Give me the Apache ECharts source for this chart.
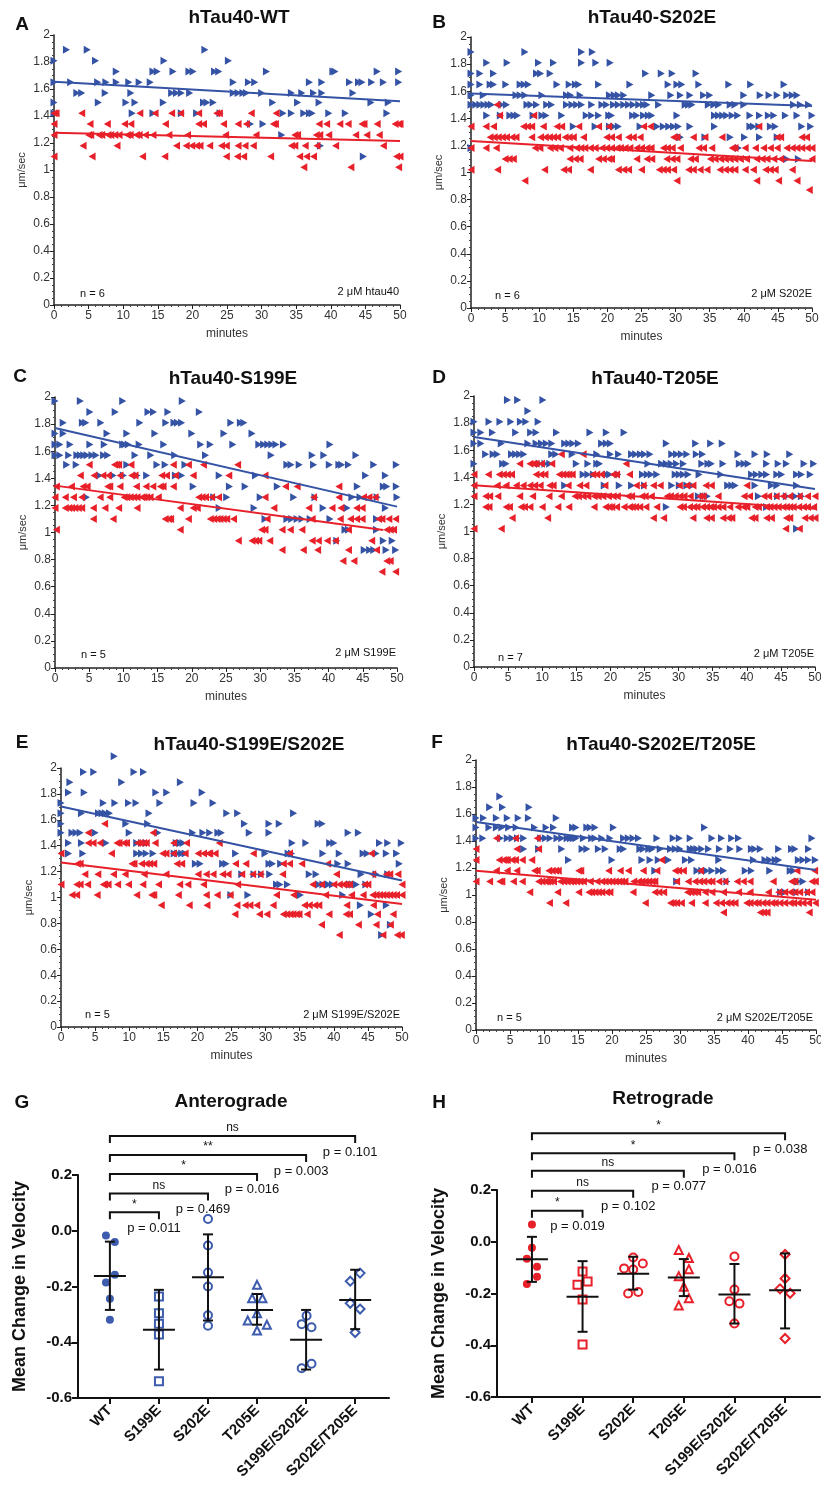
<!DOCTYPE html>
<html>
<head>
<meta charset="utf-8">
<script src="https://cdn.jsdelivr.net/npm/echarts@6/dist/echarts.min.js"></script>
<style>
  html, body { margin: 0; padding: 0; background: #fff; }
  #chart { width: 821px; height: 1491px; }
</style>
</head>
<body>
<div id="chart"></div>
<script>
// velocity rows: [µm/sec level, [minutes...]]
const aAntero = [
  [1.89, [1.8, 4.8, 21.8]],
  [1.81, [0, 6.0, 15.9, 25.2]],
  [1.73, [9.0, 14.3, 14.9, 17.2, 19.5, 20.1, 23.2, 23.8, 30.7, 40.3, 40.6, 46.7, 49.8]],
  [1.65, [0, 2.4, 6.3, 7.5, 9.0, 10.8, 12.3, 13.9, 25.9, 28.1, 29.0, 36.9, 38.7, 42.7, 44.0, 44.5, 45.9, 47.6, 49.8]],
  [1.57, [3.3, 4.0, 7.4, 11.1, 17.0, 17.7, 18.4, 19.6, 25.9, 26.6, 27.3, 27.8, 30.0, 34.3, 35.8, 37.5, 38.7, 43.2]],
  [1.50, [0, 6.4, 10.4, 11.7, 15.8, 21.6, 22.1, 23.0, 31.6, 35.2, 38.3, 45.8, 48.3]],
  [1.42, [0, 11.3, 14.3, 18.4, 20.6, 24.0, 33.1, 34.3, 36.1, 36.9, 37.3, 39.7, 42.1, 48.1]],
  [1.34, [28.4, 30.2]],
  [1.26, [32.9]],
  [1.18, [38.5]],
  [1.10, [44.7]]
]
const aRetro = [
  [1.42, [0, 0.3, 4.0, 12.4, 14.6, 17.0, 18.3, 20.9, 23.5, 23.9, 28.5, 32.1]],
  [1.34, [0, 5.2, 7.7, 10.2, 11.1, 16.1, 20.9, 21.6, 24.5, 26.6, 27.8, 31.7, 32.0, 38.3, 39.4, 41.3, 42.5, 44.5, 44.8, 46.7, 49.3, 49.8, 50]],
  [1.26, [0, 5.0, 5.3, 6.5, 6.9, 7.8, 8.2, 8.8, 9.4, 10.6, 11.0, 11.9, 12.3, 13.2, 14.3, 16.6, 19.3, 24.8, 29.2, 34.8, 35.2, 37.9, 38.4, 39.7, 43.6, 45.2, 47.0]],
  [1.18, [4.2, 9.1, 17.7, 19.1, 19.9, 20.6, 21.1, 22.5, 24.2, 24.9, 26.6, 27.6, 28.8, 34.3, 34.8, 36.3, 38.0, 40.7, 47.6]],
  [1.10, [0, 5.5, 12.8, 16.0, 24.9, 26.5, 27.4, 31.3, 35.5, 36.5, 37.5, 49.5, 50]],
  [1.02, [36.1, 42.9, 49.8]]
]
const bAntero = [
  [1.89, [0, 7.9, 16.2, 17.8]],
  [1.81, [2.3, 5.3, 9.9, 12.1, 16.2, 18.3, 20.4]],
  [1.73, [0, 1.3, 3.3, 9.6, 10.2, 11.6, 25.6, 27.9, 29.5, 33.0]],
  [1.65, [0, 1.3, 2.8, 3.3, 5.1, 7.2, 7.8, 8.4, 12.6, 14.4, 15.3, 15.8, 18.7, 23.3, 28.9, 30.2, 30.9, 33.4, 37.8, 41.0, 45.9]],
  [1.57, [0, 1.8, 6.6, 7.2, 7.9, 10.4, 14.0, 14.6, 16.0, 20.3, 21.0, 21.6, 22.4, 26.5, 29.3, 30.7, 32.1, 34.1, 35.0, 40.0, 42.4, 43.7, 44.9, 46.3, 47.1, 47.8]],
  [1.50, [0, 0.7, 1.3, 1.9, 2.5, 3.0, 4.5, 5.2, 8.2, 8.8, 9.6, 11.1, 11.8, 14.0, 14.8, 15.5, 16.2, 17.7, 19.2, 19.9, 20.9, 21.6, 22.4, 23.1, 23.8, 24.6, 25.3, 25.8, 27.5, 31.4, 31.9, 32.4, 34.8, 35.6, 36.3, 38.0, 38.7, 40.0, 47.3, 48.3, 49.5]],
  [1.42, [2.3, 4.3, 5.7, 6.3, 6.8, 9.1, 10.4, 11.0, 13.3, 16.9, 17.7, 18.7, 20.2, 20.6, 23.7, 24.3, 25.3, 26.0, 26.5, 30.2, 35.7, 36.3, 36.9, 37.5, 38.3, 39.1, 40.9, 42.3, 43.6, 44.4, 46.1, 47.8, 50]],
  [1.34, [15.0, 18.2, 20.3, 20.9, 21.6, 24.8, 27.3, 28.2, 29.0, 29.7, 30.4, 32.1, 35.7, 40.9, 41.4, 42.2, 43.9, 44.6, 48.5, 49.8]],
  [1.26, [30.7, 34.3, 38.0, 40.1, 42.3, 44.9]],
  [1.18, [0, 39.2]],
  [1.10, [46.3, 48.0]]
]
const bRetro = [
  [1.50, [3.8]],
  [1.42, [4.2, 9.2]],
  [1.34, [0, 2.2, 3.3, 7.7, 8.3, 8.9, 10.6, 12.6, 13.3, 15.8, 18.7, 20.2, 25.3, 26.3, 42.2]],
  [1.26, [2.8, 3.4, 4.0, 4.6, 5.2, 6.0, 6.6, 8.9, 10.2, 10.9, 11.5, 12.1, 12.7, 13.8, 14.4, 15.0, 16.5, 19.9, 20.6, 21.6, 23.1, 23.8, 24.8, 29.7, 30.2, 32.6, 34.3, 36.8, 44.9, 45.4, 48.5, 49.2]],
  [1.18, [0, 2.2, 3.7, 9.4, 10.1, 11.6, 12.3, 13.1, 14.5, 15.5, 16.1, 16.7, 17.5, 18.2, 19.2, 19.9, 20.6, 21.4, 21.9, 22.6, 23.3, 24.3, 25.0, 25.8, 26.4, 28.2, 28.8, 29.5, 30.7, 33.4, 34.1, 35.3, 38.3, 38.7, 40.2, 41.7, 42.9, 43.9, 44.9, 46.3, 47.1, 47.8, 48.5, 49.3, 50]],
  [1.10, [5.0, 5.6, 6.2, 14.5, 15.3, 16.0, 18.7, 19.4, 20.2, 20.6, 24.3, 25.8, 26.5, 28.7, 29.5, 30.2, 32.2, 32.9, 35.1, 35.8, 36.6, 37.3, 38.0, 38.7, 39.5, 40.4, 41.9, 42.7, 43.4, 44.4, 45.4, 50]],
  [1.02, [0, 3.9, 10.8, 13.6, 14.3, 17.5, 21.6, 22.4, 23.1, 25.0, 27.6, 28.2, 28.8, 29.7, 31.9, 32.6, 33.6, 34.6, 36.5, 37.3, 38.0, 38.7, 40.2, 41.4, 43.2, 43.9, 44.6, 47.1]],
  [0.94, [7.9, 30.2, 41.9, 45.1, 47.8]],
  [0.87, [49.6]]
]
const cAntero = [
  [1.97, [0, 3.7, 9.9, 18.6]],
  [1.89, [5.1, 8.8, 13.6, 14.4, 16.5, 21.1]],
  [1.81, [1.2, 4.0, 4.5, 6.7, 12.4, 16.2, 17.4, 17.9, 18.5, 25.7, 27.1, 27.6]],
  [1.73, [0, 1.2, 7.6, 10.5, 14.6, 20.0, 24.7, 28.8]],
  [1.65, [0, 0.7, 2.2, 5.1, 7.2, 9.9, 10.2, 10.7, 12.3, 15.9, 21.3, 22.7, 26.0, 29.8, 30.5, 31.1, 31.7, 32.3, 33.4, 40.2]],
  [1.57, [0, 0.7, 2.0, 3.2, 3.7, 4.2, 4.7, 5.4, 6.0, 7.1, 7.7, 11.7, 14.0, 17.5, 22.0, 31.6, 37.6, 39.3, 44.0]],
  [1.50, [1.7, 3.1, 10.5, 14.9, 16.1, 19.0, 33.9, 34.5, 35.7, 37.8, 40.1, 41.5, 41.9, 42.9, 46.6, 49.9]],
  [1.42, [6.5, 8.5, 10.0, 12.0, 13.4, 17.6, 18.5, 24.0, 29.3, 45.4, 48.3]],
  [1.34, [20.2, 25.5, 27.8, 32.5, 44.2, 48.0, 48.5, 49.9]],
  [1.26, [4.6, 23.2, 25.1, 30.0, 34.9, 38.0, 43.4, 44.6, 47.1, 50]],
  [1.18, [24.0, 29.1, 39.2, 42.7, 48.3]],
  [1.10, [30.7, 33.9, 34.6, 35.4, 36.1, 37.3, 40.2, 47.0]],
  [1.02, [42.4, 42.9, 47.0]],
  [0.94, [41.2, 48.0, 49.3]],
  [0.87, [45.2, 46.0, 46.6, 48.4, 49.8]]
]
const cRetro = [
  [1.50, [5.0, 8.7, 9.0, 9.3, 11.1, 17.3, 19.5, 21.7, 26.7]],
  [1.42, [3.7, 5.7, 7.0, 7.8, 9.5, 11.2, 11.7, 15.6, 16.3, 17.6, 20.2, 25.4, 30.7]],
  [1.34, [0.2, 2.4, 4.1, 4.7, 7.7, 8.0, 9.5, 11.9, 13.3, 14.3, 15.4, 15.8, 17.3, 33.7, 35.4, 41.5]],
  [1.26, [0, 1.5, 2.7, 3.9, 6.6, 8.0, 10.1, 10.5, 11.0, 11.5, 12.0, 12.7, 13.0, 13.4, 13.9, 15.1, 21.0, 21.5, 22.0, 22.9, 23.9, 30.7, 37.8, 41.5, 45.1, 45.9, 46.8]],
  [1.18, [0, 1.5, 2.0, 2.4, 2.9, 3.4, 3.9, 5.6, 7.3, 9.3, 12.0, 18.3, 20.2, 20.8, 32.0, 37.1, 40.5, 41.8, 44.1, 44.9]],
  [1.10, [5.6, 8.5, 16.1, 16.6, 16.9, 19.5, 22.7, 23.2, 23.7, 24.1, 24.6, 25.1, 26.1, 31.0, 37.6, 41.7, 43.2, 44.1, 44.9, 47.3, 47.8, 48.8, 49.8]],
  [1.02, [0.2, 18.3, 30.2, 30.7, 33.2, 34.4, 36.1, 42.9, 48.5, 49.0, 49.5]],
  [0.94, [26.8, 28.8, 29.3, 29.8, 31.4, 37.6, 38.5, 39.8, 41.0, 46.3]],
  [0.87, [33.2, 36.3, 38.4, 42.9, 47.0]],
  [0.79, [42.1, 43.7, 48.5, 49.0]],
  [0.71, [47.8, 49.8]]
]
const dAntero = [
  [1.97, [4.9, 6.4, 10.1]],
  [1.89, [7.9]],
  [1.81, [0, 2.2, 3.8, 5.4, 6.8, 7.6, 9.4]],
  [1.73, [0, 1.0, 2.7, 6.1, 8.3, 9.1, 12.1, 17.0, 19.4, 22.0]],
  [1.65, [0, 1.0, 4.0, 7.9, 9.1, 9.9, 10.6, 11.4, 13.3, 13.9, 14.5, 15.3, 18.7, 19.4, 20.0, 28.2, 32.5, 34.7, 36.4]],
  [1.57, [1.7, 2.8, 3.4, 5.5, 6.1, 6.7, 7.3, 11.4, 12.0, 14.4, 18.0, 20.0, 21.2, 23.1, 23.7, 24.4, 25.0, 25.8, 29.0, 29.7, 30.4, 31.2, 32.6, 33.5, 38.7, 41.2, 43.0, 46.3]],
  [1.50, [0, 4.2, 4.7, 9.6, 10.4, 11.1, 15.0, 16.7, 18.0, 18.4, 25.5, 27.5, 28.2, 28.9, 29.7, 30.7, 33.4, 34.3, 34.8, 36.5, 38.9, 39.6, 40.2, 42.9, 44.6, 45.8, 48.4, 49.8]],
  [1.42, [16.0, 16.7, 17.5, 19.4, 19.9, 21.1, 24.7, 25.4, 26.0, 26.8, 29.5, 30.1, 30.7, 31.4, 33.0, 36.2, 40.7, 41.4, 42.2, 42.9, 44.4, 45.1, 47.3, 48.0, 49.3]],
  [1.34, [13.3, 19.1, 21.3, 23.1, 25.0, 29.0, 30.1, 31.2, 32.0, 37.2, 37.8, 38.3, 41.2, 43.6, 44.4, 47.3]],
  [1.26, [32.9, 33.6, 34.2, 41.7, 44.5, 45.8, 47.1, 48.0]],
  [1.18, [28.2, 42.9]],
  [1.02, [47.3]]
]
const dRetro = [
  [1.57, [12.8, 16.0]],
  [1.50, [6.7, 8.2, 8.7, 9.1, 9.9, 11.4, 22.3]],
  [1.42, [0, 2.1, 3.7, 4.3, 4.9, 5.5, 9.1, 9.8, 10.4, 12.5, 13.0, 13.5, 13.9, 14.4, 17.4, 18.0, 18.7, 20.4, 20.9, 22.8]],
  [1.34, [0, 3.4, 4.7, 6.2, 7.2, 8.2, 8.9, 9.7, 11.1, 11.6, 13.8, 15.5, 16.4, 19.2, 23.8, 24.8, 26.3, 27.3, 30.1, 31.2, 32.1, 34.0, 34.8, 40.0]],
  [1.26, [0, 1.7, 2.3, 3.5, 6.7, 8.6, 11.0, 12.8, 14.8, 15.3, 16.0, 16.7, 17.6, 18.2, 18.9, 19.7, 20.4, 21.0, 22.6, 23.1, 24.6, 25.1, 26.0, 28.3, 28.8, 29.5, 30.2, 30.8, 31.7, 33.1, 33.6, 35.8, 39.6, 40.4, 42.5, 43.2, 44.3, 45.3, 46.3, 47.7, 48.9, 50]],
  [1.18, [1.7, 2.2, 4.7, 5.2, 6.9, 7.4, 8.2, 10.0, 12.3, 13.9, 17.6, 19.3, 19.8, 20.2, 20.9, 22.0, 22.8, 23.2, 23.7, 24.3, 25.2, 26.8, 30.2, 30.7, 31.6, 32.2, 32.7, 33.5, 34.1, 34.7, 35.1, 35.8, 36.5, 37.5, 38.7, 39.5, 40.0, 41.2, 41.7, 42.9, 43.4, 44.0, 44.6, 45.3, 45.8, 46.3, 46.8, 47.6, 48.3, 48.9, 49.8]],
  [1.10, [5.6, 10.8, 26.3, 27.8, 32.1, 34.1, 34.8, 36.5, 37.3, 37.8, 40.7, 41.2, 42.9, 43.6, 45.8, 46.3, 48.5, 49.3, 50]],
  [1.02, [0, 4.0, 45.7, 47.7]]
]
const eAntero = [
  [2.09, [7.8]],
  [1.97, [3.3, 4.8, 10.7, 12.1]],
  [1.89, [1.3, 8.9, 17.5]],
  [1.81, [1.1, 3.4, 13.9, 15.5, 20.7]],
  [1.73, [0, 6.2, 7.9, 9.9, 11.0, 14.5, 19.5, 22.3]],
  [1.65, [0, 3.0, 5.5, 6.0, 6.5, 7.1, 12.9, 24.3, 25.9, 34.1]],
  [1.57, [0, 9.5, 12.7, 26.9, 30.5, 32.0, 37.7, 38.3]],
  [1.50, [0, 1.6, 2.2, 2.8, 5.0, 10.0, 14.2, 19.3, 20.8, 21.8, 23.0, 23.5, 27.6, 30.5, 42.1, 43.6]],
  [1.42, [1.1, 3.0, 6.6, 11.1, 11.8, 12.5, 16.9, 17.5, 17.9, 33.9, 35.9, 39.4, 40.0, 46.7, 47.9, 49.9]],
  [1.34, [1.1, 3.2, 11.1, 11.8, 12.5, 13.5, 16.6, 17.1, 17.7, 18.2, 25.6, 29.9, 33.3, 33.8, 38.4, 40.8, 44.3, 44.9, 46.2, 47.7, 49.2]],
  [1.26, [19.7, 20.4, 23.7, 24.2, 30.5, 31.0, 32.2, 40.6, 42.1, 49.6]],
  [1.18, [26.5, 28.3, 29.4, 30.6, 36.4, 37.4, 44.0, 46.2, 47.9]],
  [1.10, [31.6, 32.1, 33.2, 37.8, 38.4, 39.2, 39.8, 42.3, 42.8, 43.3, 44.7]],
  [1.02, [24.9, 27.4, 35.1, 41.3]],
  [0.94, [43.9, 47.7]],
  [0.87, [45.5]],
  [0.79, [48.3]],
  [0.71, [47.0]]
]
const eRetro = [
  [1.57, [6.4]],
  [1.50, [4.0, 13.5]],
  [1.42, [4.0, 4.7, 5.7, 8.2, 8.5, 9.2, 9.6, 11.2, 11.6, 12.1, 12.5, 13.8, 16.5, 18.4, 23.2]],
  [1.34, [0, 7.4, 14.9, 15.4, 16.5, 18.2, 20.1, 20.9, 21.6, 21.8, 22.6, 28.2, 33.5, 45.5]],
  [1.26, [2.4, 2.8, 10.4, 10.7, 11.8, 12.5, 13.0, 13.6, 17.0, 17.7, 25.6, 27.1, 32.6, 33.5, 35.3, 39.1]],
  [1.18, [3.5, 5.4, 7.7, 9.4, 12.2, 15.4, 20.1, 21.3, 22.3, 23.7, 24.5, 26.5, 28.1, 29.2, 32.5, 40.4, 45.7, 47.7, 48.2, 49.4]],
  [1.10, [0, 2.3, 2.8, 3.9, 6.2, 6.4, 6.9, 8.3, 9.9, 12.0, 14.3, 17.4, 18.6, 20.9, 25.9, 36.9, 38.2, 40.0, 40.8, 41.4, 41.8, 42.3, 44.5, 45.0, 50]],
  [1.02, [1.6, 2.3, 5.3, 11.1, 13.3, 13.6, 17.2, 21.3, 22.9, 24.8, 31.6, 34.1, 38.8, 42.6, 44.3, 45.7, 46.2, 46.7, 47.2, 47.7, 48.2, 48.7, 49.2, 50]],
  [0.94, [14.7, 18.8, 21.4, 25.8, 27.0, 27.7, 28.7, 31.1, 35.7, 36.4, 37.2, 37.8, 41.9, 45.8]],
  [0.87, [25.5, 29.1, 30.2, 32.6, 33.1, 33.6, 34.0, 34.5, 34.9, 36.1, 39.3, 41.8, 42.3, 46.4, 48.7]],
  [0.79, [38.2, 43.6, 46.2, 48.3]],
  [0.71, [40.8, 47.2, 49.3, 49.9]]
]
const fAntero = [
  [1.73, [3.5]],
  [1.65, [2.0, 3.9, 7.8]],
  [1.57, [0, 1.1, 3.0, 4.6, 6.2, 7.7, 11.8]],
  [1.50, [0, 1.9, 3.0, 3.8, 4.8, 5.9, 8.6, 10.3, 11.4, 14.2, 14.7, 16.3, 16.8, 17.5, 20.2, 33.6]],
  [1.42, [0, 1.0, 3.6, 4.6, 5.3, 6.1, 7.0, 9.5, 10.2, 10.9, 11.9, 12.6, 13.4, 13.9, 14.3, 14.7, 15.8, 17.0, 17.5, 18.5, 19.7, 21.7, 22.4, 23.1, 23.9, 26.6, 29.0, 29.9, 31.5, 34.7, 36.1, 37.6, 38.6, 49.4]],
  [1.34, [7.0, 9.2, 12.6, 15.6, 16.3, 18.0, 19.0, 21.2, 21.7, 24.1, 24.6, 25.4, 25.9, 27.1, 28.6, 29.3, 30.0, 31.5, 32.0, 32.5, 33.2, 34.2, 35.8, 37.4, 38.8, 40.5, 41.0, 41.8, 44.5, 46.4, 46.9, 48.9]],
  [1.26, [13.6, 20.0, 24.4, 25.6, 26.8, 28.3, 30.8, 31.7, 35.7, 40.8, 42.5, 43.2, 44.0, 44.5, 47.4, 48.1, 48.9, 49.9]],
  [1.18, [26.3, 32.5, 33.2, 33.9, 34.7, 35.7, 36.4, 39.6, 40.5, 43.2, 46.2, 46.7]],
  [1.10, [29.5, 36.9, 47.4, 48.1]],
  [1.02, [44.8, 45.4, 47.2, 48.9]]
]
const fRetro = [
  [1.42, [3.0, 5.8, 9.0]],
  [1.34, [0, 6.0, 9.2]],
  [1.26, [0, 3.4, 4.0, 4.3, 4.6, 5.3, 5.8, 6.8, 8.2, 27.3]],
  [1.18, [3.0, 4.6, 6.0, 8.6, 9.0, 10.7, 11.2, 11.7, 12.1, 15.1, 15.4, 19.5, 21.2, 22.4, 24.6, 26.6, 29.3, 29.8, 30.5, 33.0, 47.2, 49.8]],
  [1.10, [0, 2.0, 3.5, 3.8, 5.5, 6.8, 9.2, 9.7, 10.2, 10.5, 10.9, 11.4, 12.4, 12.9, 13.4, 13.9, 14.3, 14.8, 15.3, 15.8, 16.8, 17.8, 18.5, 19.0, 19.5, 20.0, 20.5, 21.0, 21.4, 21.9, 23.2, 23.9, 24.4, 24.9, 25.4, 25.9, 26.3, 29.5, 31.2, 32.2, 32.9, 33.5, 34.2, 34.7, 35.7, 36.6, 38.4, 39.3, 40.3, 43.7, 46.4, 46.9, 49.4, 49.9]],
  [1.02, [7.9, 12.0, 15.1, 16.6, 17.0, 17.5, 18.0, 18.5, 19.2, 19.7, 23.1, 26.3, 26.9, 27.6, 31.1, 31.6, 32.1, 32.6, 33.7, 34.7, 36.4, 38.6, 40.3, 43.0, 44.5, 45.4, 46.2, 46.9, 47.6, 48.6, 49.4]],
  [0.94, [10.8, 13.2, 24.9, 28.6, 29.0, 29.5, 30.2, 31.7, 33.7, 35.3, 36.1, 36.9, 37.5, 38.1, 39.8, 40.3, 41.0, 41.5, 42.2, 42.8, 43.5, 44.0, 44.7, 45.4, 46.2, 46.7, 47.4, 48.1, 48.9, 49.9]],
  [0.87, [36.4, 41.8, 42.3, 42.8, 49.0]]
]

// linear fits: [minutes, µm/sec] at the two ends
const fitAntero = [
  [[0, 1.653], [50, 1.51]],
  [[0, 1.583], [50, 1.49]],
  [[0, 1.771], [50, 1.191]],
  [[0, 1.698], [50, 1.314]],
  [[0, 1.702], [50, 1.131]],
  [[0, 1.541], [50, 1.186]]
]
const fitRetro = [
  [[0, 1.276], [50, 1.214]],
  [[0, 1.232], [50, 1.085]],
  [[0, 1.346], [48, 1.018]],
  [[0, 1.342], [50, 1.167]],
  [[0, 1.27], [50, 0.949]],
  [[0, 1.179], [50, 0.964]]
]

const panelTitles = ['hTau40-WT', 'hTau40-S202E', 'hTau40-S199E', 'hTau40-T205E', 'hTau40-S199E/S202E', 'hTau40-S202E/T205E', 'Anterograde', 'Retrograde']
const panelLetters = ['A', 'B', 'C', 'D', 'E', 'F', 'G', 'H']
const panelN = ['n = 6', 'n = 6', 'n = 5', 'n = 7', 'n = 5', 'n = 5']
const panelConc = ['2 μM htau40', '2 μM S202E', '2 μM S199E', '2 μM T205E', '2 μM S199E/S202E', '2 μM S202E/T205E']

// summary panels
const groups = ['WT', 'S199E', 'S202E', 'T205E', 'S199E/S202E', 'S202E/T205E']
const gPts = [
  [[-0.08, -0.017], [0.1, -0.04], [0.1, -0.158], [-0.08, -0.186], [0, -0.244], [0, -0.319]],
  [[1, -0.236], [1, -0.296], [1, -0.334], [1, -0.372], [1, -0.54]],
  [[2, 0.042], [2, -0.053], [2, -0.15], [2, -0.2], [2, -0.303], [2, -0.341]],
  [[3, -0.194], [2.9, -0.242], [3.11, -0.242], [3, -0.296], [2.81, -0.322], [3.2, -0.337], [3, -0.358]],
  [[4.01, -0.305], [3.91, -0.335], [4.11, -0.346], [4.11, -0.477], [3.91, -0.493]],
  [[5.1, -0.152], [4.9, -0.181], [4.9, -0.26], [5.1, -0.281], [5, -0.365]]
]
const gMean = [-0.162, -0.355, -0.167, -0.284, -0.391, -0.248]
const gLow = [-0.284, -0.498, -0.322, -0.337, -0.498, -0.353]
const gHigh = [-0.039, -0.212, -0.013, -0.227, -0.284, -0.14]
const gBracketY = [0.066, 0.134, 0.204, 0.272, 0.34]
const gStars = ['*', 'ns', '*', '**', 'ns']
const gP = ['p = 0.011', 'p = 0.469', 'p = 0.016', 'p = 0.003', 'p = 0.101']

const hPts = [
  [[0, 0.067], [0, -0.023], [-0.1, -0.066], [0.1, -0.097], [0.1, -0.135], [-0.1, -0.163]],
  [[1, -0.115], [1.1, -0.154], [0.9, -0.166], [1, -0.223], [1, -0.397]],
  [[2, -0.061], [1.82, -0.103], [2.19, -0.084], [2, -0.107], [1.9, -0.2], [2.1, -0.194]],
  [[2.9, -0.032], [3.1, -0.063], [3.1, -0.106], [2.9, -0.133], [3, -0.174], [3.1, -0.218], [2.9, -0.246]],
  [[4, -0.057], [4, -0.185], [3.9, -0.23], [4.1, -0.239], [4, -0.316]],
  [[5, -0.049], [5, -0.142], [4.9, -0.182], [5.1, -0.199], [5, -0.374]]
]
const hMean = [-0.068, -0.213, -0.124, -0.138, -0.204, -0.187]
const hLow = [-0.155, -0.348, -0.185, -0.21, -0.316, -0.335]
const hHigh = [0.019, -0.075, -0.058, -0.067, -0.086, -0.045]
const hBracketY = [0.12, 0.197, 0.274, 0.342, 0.419]
const hStars = ['*', 'ns', 'ns', '*', '*']
const hP = ['p = 0.019', 'p = 0.102', 'p = 0.077', 'p = 0.016', 'p = 0.038']

const FONT = '"Liberation Sans", Arial, sans-serif'
const BLUE = '#3553a5'
const RED = '#e8202a'
const DOT_BLUE = '#3d5cae'
const RIGHT_TRI = 'path://M0,0L10,6L0,12Z'
const LEFT_TRI = 'path://M10,0L0,6L10,12Z'

const grids = [
  { left: 54, top: 35, width: 346, height: 270 },
  { left: 471, top: 37, width: 341, height: 271 },
  { left: 55, top: 397, width: 342, height: 271 },
  { left: 474, top: 396, width: 341, height: 271 },
  { left: 61, top: 768, width: 341, height: 259 },
  { left: 476, top: 760, width: 340, height: 270 },
  { left: 78, top: 1175, width: 311, height: 223 },
  { left: 497, top: 1190, width: 323, height: 207 }
]
const titlePos = [[239, 18], [652, 18], [233, 379], [655, 379], [249, 745], [661, 745], [231, 1102], [663, 1099]]
const letterPos = [[22, 25], [439, 23], [20, 377], [439, 378], [22, 743], [437, 743], [22, 1103], [439, 1103]]
const nPos = [[80, 294], [495, 296], [81, 655], [498, 658], [85, 1015], [497, 1018]]
const concPos = [[399, 292], [812, 294], [396, 653], [814, 654], [400, 1015], [813, 1018]]

const toPts = rows => rows.flatMap(([y, xs]) => xs.map(x => [x, y]))
const antero = [aAntero, bAntero, cAntero, dAntero, eAntero, fAntero]
const retro = [aRetro, bRetro, cRetro, dRetro, eRetro, fRetro]

function txt (x, y, text, font, align, vAlign) {
  return {
    type: 'text', x: x, y: y, silent: true,
    style: { text: text, font: font, fill: '#111', align: align, textAlign: align, verticalAlign: vAlign, textVerticalAlign: vAlign }
  }
}

const xAxes = []
const yAxes = []
const series = []
const graphics = []

for (let i = 0; i < 6; i++) {
  xAxes.push({
    type: 'value', gridIndex: i, min: 0, max: 50, interval: 5,
    name: 'minutes', nameLocation: 'middle', nameGap: 23,
    nameTextStyle: { fontSize: 12, color: '#333', fontFamily: FONT },
    axisLine: { onZero: false, lineStyle: { color: '#222', width: 1.5 } },
    axisTick: { length: 4, lineStyle: { color: '#222' } },
    minorTick: { show: true, splitNumber: 5, length: 2, lineStyle: { color: '#444' } },
    axisLabel: { fontSize: 12, color: '#333', fontFamily: FONT, margin: 5 },
    splitLine: { show: false }
  })
  yAxes.push({
    type: 'value', gridIndex: i, min: 0, max: 2, interval: 0.2,
    name: 'μm/sec', nameLocation: 'middle', nameGap: 27,
    nameTextStyle: { fontSize: 11, color: '#333', fontFamily: FONT },
    axisLine: { show: true, onZero: false, lineStyle: { color: '#222', width: 1.5 } },
    axisTick: { show: true, length: 4, lineStyle: { color: '#222' } },
    minorTick: { show: true, splitNumber: 4, length: 2, lineStyle: { color: '#444' } },
    axisLabel: { fontSize: 12, color: '#333', fontFamily: FONT, margin: 4 },
    splitLine: { show: false }
  })
  series.push({
    type: 'scatter', xAxisIndex: i, yAxisIndex: i, clip: false, silent: true,
    symbol: RIGHT_TRI, symbolSize: [7, 8], itemStyle: { color: BLUE, opacity: 1 },
    data: toPts(antero[i]), z: 2
  })
  series.push({
    type: 'scatter', xAxisIndex: i, yAxisIndex: i, clip: false, silent: true,
    symbol: LEFT_TRI, symbolSize: [7, 8], itemStyle: { color: RED, opacity: 1 },
    data: toPts(retro[i]), z: 3
  })
  series.push({
    type: 'line', xAxisIndex: i, yAxisIndex: i, data: fitAntero[i], symbol: 'none', silent: true,
    lineStyle: { color: BLUE, width: 2 }, z: 4
  })
  series.push({
    type: 'line', xAxisIndex: i, yAxisIndex: i, data: fitRetro[i], symbol: 'none', silent: true,
    lineStyle: { color: RED, width: 2 }, z: 4
  })
  graphics.push(txt(nPos[i][0], nPos[i][1], panelN[i], '11px ' + FONT, 'left', 'middle'))
  graphics.push(txt(concPos[i][0], concPos[i][1], panelConc[i], '11px ' + FONT, 'right', 'middle'))
}

const summary = [
  { pts: gPts, mean: gMean, low: gLow, high: gHigh, by: gBracketY, stars: gStars, p: gP, color: DOT_BLUE, xmin: -0.65 },
  { pts: hPts, mean: hMean, low: hLow, high: hHigh, by: hBracketY, stars: hStars, p: hP, color: RED, xmin: -0.69 }
]
const symbols = ['circle', 'rect', 'circle', 'triangle', 'circle', 'diamond']

summary.forEach((s, k) => {
  const gi = 6 + k
  xAxes.push({
    type: 'value', gridIndex: gi, min: s.xmin, max: 5.69,
    axisLine: { onZero: false, lineStyle: { color: '#111', width: 2 } },
    axisTick: { customValues: [0, 1, 2, 3, 4, 5], length: 6, lineStyle: { color: '#111', width: 2 } },
    axisLabel: {
      customValues: [0, 1, 2, 3, 4, 5], rotate: 45, margin: 10,
      formatter: v => groups[Math.round(v)],
      fontSize: 15, fontWeight: 'bold', color: '#111', fontFamily: FONT
    },
    splitLine: { show: false }
  })
  yAxes.push({
    type: 'value', gridIndex: gi, min: -0.6, max: 0.2, interval: 0.2,
    name: 'Mean Change in Velocity', nameLocation: 'middle', nameGap: 49,
    nameTextStyle: { fontSize: 18, fontWeight: 'bold', color: '#111', fontFamily: FONT },
    axisLine: { show: true, onZero: false, lineStyle: { color: '#111', width: 2 } },
    axisTick: { show: true, length: 6, lineStyle: { color: '#111', width: 2 } },
    axisLabel: {
      formatter: v => (Math.abs(v) < 1e-9 ? 0 : v).toFixed(1),
      fontSize: 15, fontWeight: 'bold', color: '#111', fontFamily: FONT, margin: 6
    },
    splitLine: { show: false }
  })
  s.pts.forEach((pts, j) => {
    series.push({
      type: 'scatter', xAxisIndex: gi, yAxisIndex: gi, clip: false, silent: true,
      symbol: symbols[j], symbolSize: j === 0 ? 8 : (j === 5 ? 9 : 8),
      itemStyle: j === 0
        ? { color: s.color, opacity: 1 }
        : { color: '#fff', borderColor: s.color, borderWidth: 2, opacity: 1 },
      data: pts, z: 3
    })
  })
  // mean and SD bars
  series.push({
    type: 'custom', xAxisIndex: gi, yAxisIndex: gi, silent: true, z: 4,
    data: s.mean.map((m, j) => [j, m, s.low[j], s.high[j]]),
    encode: { x: 0, y: [1, 2, 3] },
    renderItem: (params, api) => {
      const x = api.value(0)
      const c = api.coord([x, api.value(1)])
      const lo = api.coord([x, api.value(2)])
      const hi = api.coord([x, api.value(3)])
      const st = { stroke: '#111', lineWidth: 2 }
      return {
        type: 'group',
        children: [
          { type: 'line', shape: { x1: c[0] - 16, y1: c[1], x2: c[0] + 16, y2: c[1] }, style: st },
          { type: 'line', shape: { x1: lo[0], y1: lo[1], x2: hi[0], y2: hi[1] }, style: st },
          { type: 'line', shape: { x1: lo[0] - 5, y1: lo[1], x2: lo[0] + 5, y2: lo[1] }, style: st },
          { type: 'line', shape: { x1: hi[0] - 5, y1: hi[1], x2: hi[0] + 5, y2: hi[1] }, style: st }
        ]
      }
    }
  })
  // significance brackets from WT
  series.push({
    type: 'custom', xAxisIndex: gi, yAxisIndex: gi, silent: true, z: 4,
    data: s.by.map((y, j) => [j + 1, y]),
    encode: { x: 0, y: 1 },
    renderItem: (params, api) => {
      const a = api.coord([0, api.value(1)])
      const b = api.coord([api.value(0), api.value(1)])
      const idx = params.dataIndex
      return {
        type: 'group',
        children: [
          {
            type: 'polyline',
            shape: { points: [[a[0], a[1] + 7], [a[0], a[1]], [b[0], b[1]], [b[0], b[1] + 7]] },
            style: { stroke: '#111', lineWidth: 2, fill: null }
          },
          txt((a[0] + b[0]) / 2, a[1] - 2, s.stars[idx], '12px ' + FONT, 'center', 'bottom'),
          txt(b[0] - 5, a[1] + 16, s.p[idx], '13px ' + FONT, 'center', 'middle')
        ]
      }
    }
  })
})

for (let i = 0; i < 8; i++) {
  graphics.push(txt(titlePos[i][0], titlePos[i][1], panelTitles[i], 'bold 19px ' + FONT, 'center', 'middle'))
  graphics.push(txt(letterPos[i][0], letterPos[i][1], panelLetters[i], 'bold 19px ' + FONT, 'center', 'middle'))
}

const chart = echarts.init(document.getElementById('chart'))
chart.setOption({
  animation: false,
  backgroundColor: '#fff',
  grid: grids.map(g => Object.assign({ outerBoundsMode: 'none', containLabel: false }, g)),
  xAxis: xAxes,
  yAxis: yAxes,
  series: series,
  graphic: { elements: graphics }
})
</script>
</body>
</html>
